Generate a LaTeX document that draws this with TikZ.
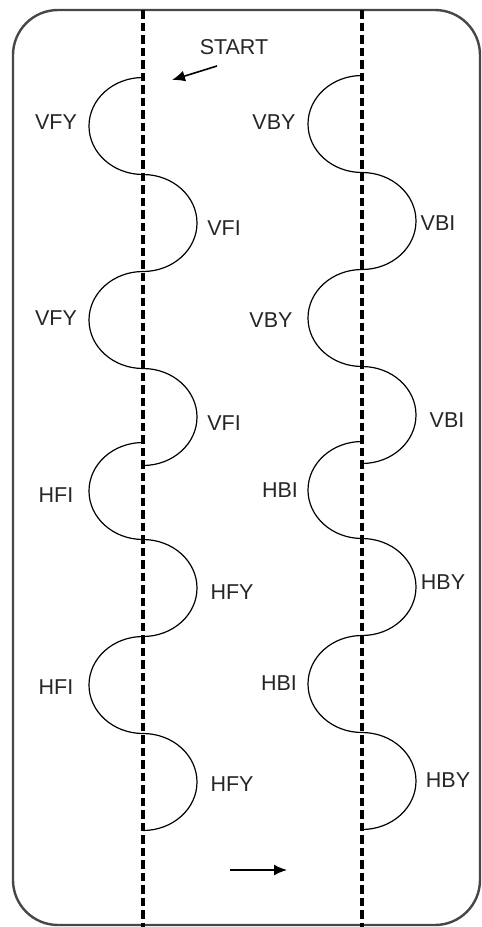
\documentclass[tikz,border=0pt]{standalone}
\usepackage{fontspec}
\setmainfont{Liberation Sans}
\usetikzlibrary{arrows.meta}
\begin{document}
\begin{tikzpicture}[x=1pt,y=-1pt,
  lbl/.style={font=\fontsize{21.5}{24}\selectfont, text=black!85, inner sep=0pt},
  guide/.style={line width=3.3pt, dash pattern=on 8.5pt off 4pt},
  bulge/.style={line width=1.2pt},
  pointer/.style={line width=1.6pt, -{Latex[length=13pt,width=11pt]}},
  frame/.style={line width=2.4pt, draw=black!72, rounded corners=45pt}]
\useasboundingbox (0,0) rectangle (482,927);
% frame
\draw[frame] (13,10) rectangle (480,925);
% guide lines
\coordinate (gLtop) at (143,10); \coordinate (gLbot) at (143,927);
\coordinate (gRtop) at (362,10); \coordinate (gRbot) at (362,927);
\draw[guide] (gLtop) -- (gLbot);
\draw[guide] (gRtop) -- (gRbot);
% left column bulges
\def\rx{54}\def\ry{48.5}
\draw[bulge] (143,77.5)
  arc[start angle=270,end angle=90,x radius=\rx,y radius=\ry]
  arc[start angle=270,end angle=450,x radius=\rx,y radius=\ry]
  arc[start angle=270,end angle=90,x radius=\rx,y radius=\ry]
  arc[start angle=270,end angle=450,x radius=\rx,y radius=\ry];
\draw[bulge] (143,442.5)
  arc[start angle=270,end angle=90,x radius=\rx,y radius=\ry]
  arc[start angle=270,end angle=450,x radius=\rx,y radius=\ry]
  arc[start angle=270,end angle=90,x radius=\rx,y radius=\ry]
  arc[start angle=270,end angle=450,x radius=\rx,y radius=\ry];
% right column bulges
\draw[bulge] (362,75.5)
  arc[start angle=270,end angle=90,x radius=\rx,y radius=\ry]
  arc[start angle=270,end angle=450,x radius=\rx,y radius=\ry]
  arc[start angle=270,end angle=90,x radius=\rx,y radius=\ry]
  arc[start angle=270,end angle=450,x radius=\rx,y radius=\ry];
\draw[bulge] (362,441.5)
  arc[start angle=270,end angle=90,x radius=\rx,y radius=\ry]
  arc[start angle=270,end angle=450,x radius=\rx,y radius=\ry]
  arc[start angle=270,end angle=90,x radius=\rx,y radius=\ry]
  arc[start angle=270,end angle=450,x radius=\rx,y radius=\ry];
% labels
\node[lbl] (start) at (234,47) {START};
\node[lbl] (vfy1) at (56,122) {VFY};
\node[lbl] (vfi1) at (224,228) {VFI};
\node[lbl] (vfy2) at (56,318) {VFY};
\node[lbl] (vfi2) at (224,423) {VFI};
\node[lbl] (hfi1) at (56,495) {HFI};
\node[lbl] (hfy1) at (232,592) {HFY};
\node[lbl] (hfi2) at (56,687) {HFI};
\node[lbl] (hfy2) at (232,784) {HFY};
\node[lbl] (vby1) at (274,122) {VBY};
\node[lbl] (vbi1) at (438,223) {VBI};
\node[lbl] (vby2) at (271,320) {VBY};
\node[lbl] (vbi2) at (447,420) {VBI};
\node[lbl] (hbi1) at (280,490) {HBI};
\node[lbl] (hby1) at (443,582) {HBY};
\node[lbl] (hbi2) at (279,683) {HBI};
\node[lbl] (hby2) at (448,780) {HBY};
% arrows
\coordinate (sa1) at (217,66); \coordinate (sa2) at (172,80);
\draw[pointer] (sa1) -- (sa2);
\coordinate (ba1) at (230,870); \coordinate (ba2) at (287,870);
\draw[pointer] (ba1) -- (ba2);
\end{tikzpicture}
\end{document}
